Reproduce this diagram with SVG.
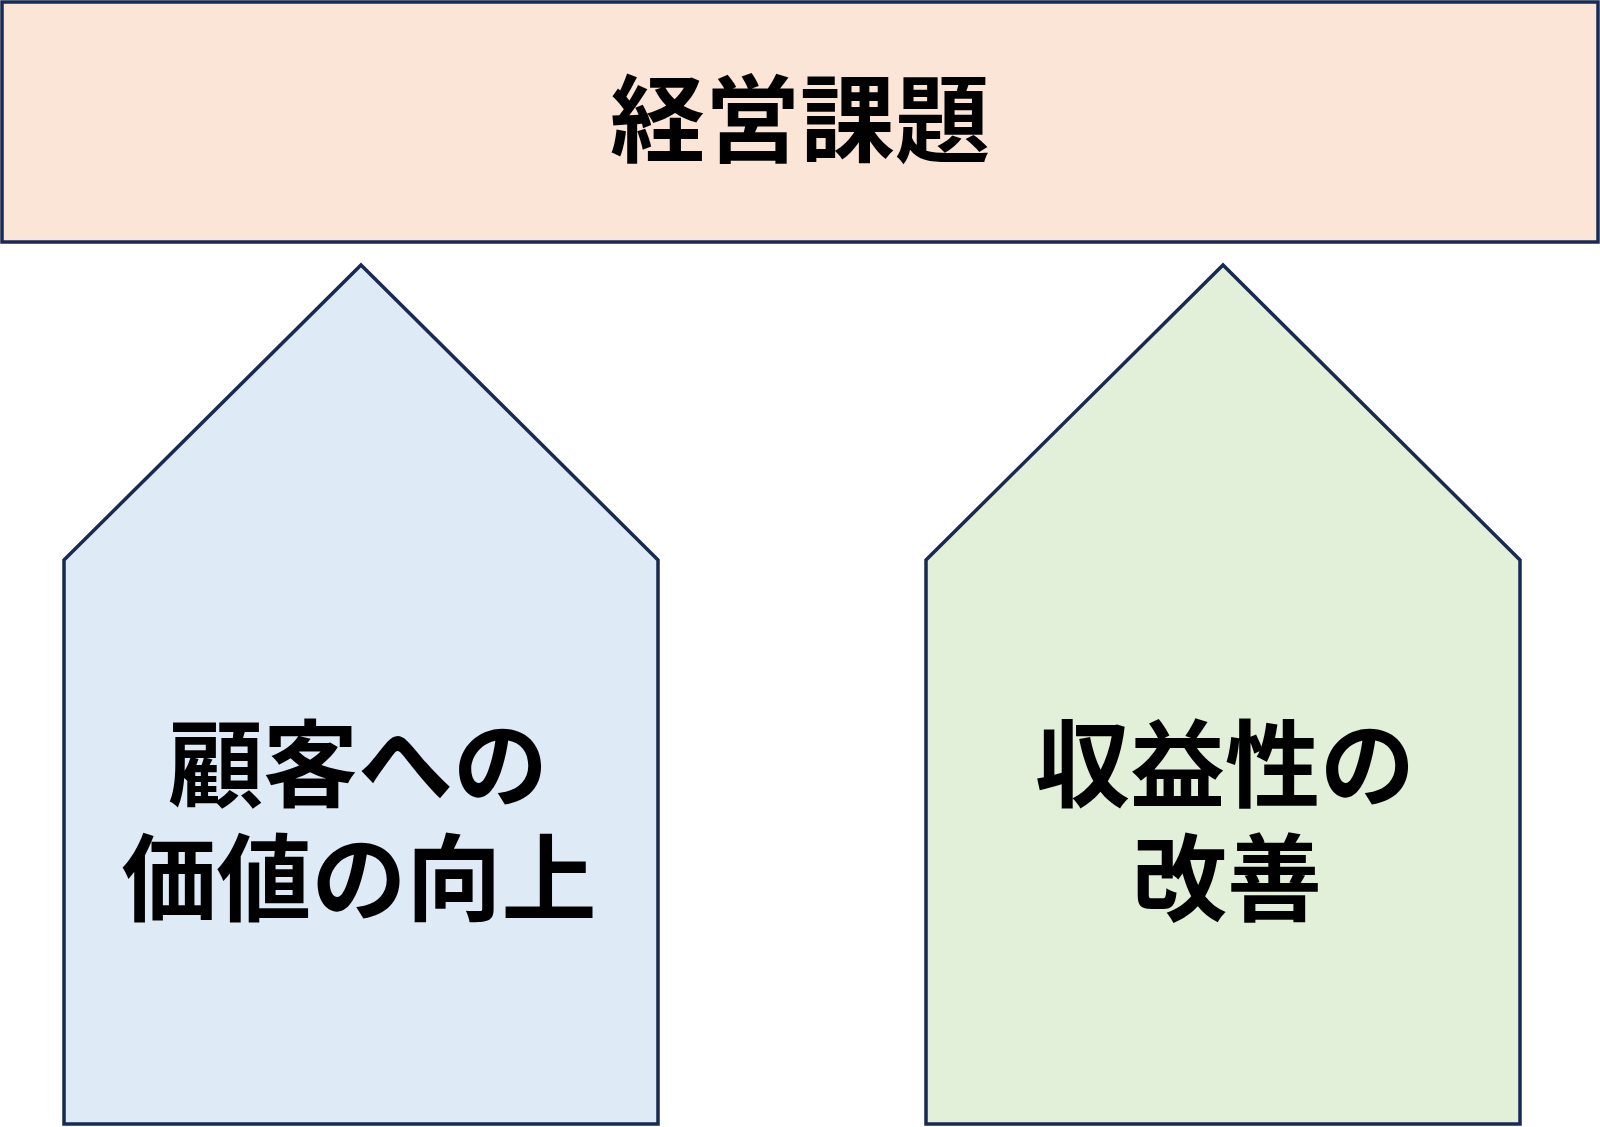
<svg xmlns="http://www.w3.org/2000/svg" width="1600" height="1127" viewBox="0 0 1600 1127">
<style>
.box{stroke:#172B52;stroke-width:3.5;stroke-linejoin:miter}
.t{font-family:"Noto Sans CJK JP","Noto Sans CJK SC",sans-serif;font-weight:bold;font-size:95px;fill:#000;text-anchor:middle}
</style>
<rect width="1600" height="1127" fill="#FFFFFF"/>
<g id="node-top">
<rect class="box" x="2" y="2" width="1596" height="240" fill="#FBE5D6"/>
<text class="t" x="800" y="155">経営課題</text>
</g>
<g id="node-left">
<polygon class="box" points="64,1124 64,560 361,265 658,560 658,1124" fill="#DEEBF7"/>
<text class="t" x="358" y="800">顧客への</text>
<text class="t" x="359" y="914">価値の向上</text>
</g>
<g id="node-right">
<polygon class="box" points="926,1124 926,560 1223,265 1520,560 1520,1124" fill="#E2F0D9"/>
<text class="t" x="1225" y="800">収益性の</text>
<text class="t" x="1227" y="914">改善</text>
</g>
<g id="connectors"></g>
</svg>
